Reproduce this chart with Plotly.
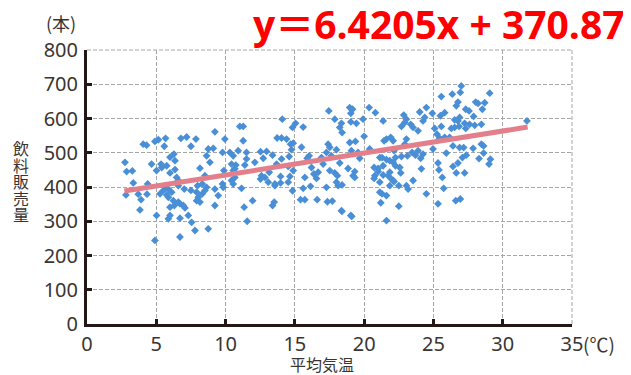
import plotly.graph_objects as go

# Scatter data: average temperature (°C) vs beverage sales (本)
temp = [
    2.74, 2.86, 3.27, 3.34, 2.81, 3.70, 3.90, 4.33, 4.38, 3.82, 4.06, 4.30, 4.90, 5.15, 5.67, 5.58,
    6.78, 7.19, 7.86, 7.50, 4.66, 5.02, 5.34, 5.75, 5.99, 6.27, 6.35, 5.99, 6.35, 6.47, 6.59, 5.27,
    5.51, 5.75, 5.87, 6.11, 6.23, 6.30, 5.99, 6.59, 6.71, 6.95, 7.07, 7.02, 7.50, 7.91, 8.03, 7.91,
    8.15, 8.32, 8.51, 8.63, 7.98, 8.32, 8.51, 8.15, 8.87, 8.63, 8.75, 9.11, 9.23, 9.23, 9.47, 9.23,
    5.02, 5.87, 5.99, 6.71, 7.31, 7.55, 7.79, 8.75, 6.71, 4.90, 6.59, 5.63, 5.87, 5.39,
    9.95, 9.78, 10.31, 10.55, 10.43, 10.74, 10.67, 10.91, 11.03, 11.27, 11.27, 11.51, 11.51, 11.39,
    10.55, 10.67, 10.43, 10.55, 9.88, 9.78, 9.83, 11.15, 12.11, 12.52, 12.96, 12.72, 13.39, 13.68,
    14.04, 14.59, 14.76, 13.72, 14.04, 14.40, 14.69, 14.88, 14.83, 15.05, 15.60, 14.09, 15.48, 12.59,
    12.52, 12.84, 13.15, 13.08, 13.56, 13.97, 13.56, 13.97, 14.52, 14.64, 14.52, 14.88, 15.72, 15.89,
    16.03, 16.20, 16.37, 16.56, 16.68, 16.13, 15.60, 14.83, 15.41, 15.72, 16.61, 11.95, 11.34, 13.39,
    13.51, 11.56, 17.04, 16.92,
    17.45, 17.40, 17.52, 17.88, 18.36, 18.24, 18.41, 18.96, 19.16, 19.04, 19.04, 19.44, 19.92, 20.00,
    20.36, 20.81, 18.96, 19.37, 18.00, 17.28, 17.64, 19.08, 19.56, 19.68, 18.24, 17.52, 17.88, 18.07,
    18.00, 18.84, 19.32, 19.32, 19.20, 18.12, 18.41, 17.28, 17.35, 18.36, 19.04, 20.40, 21.13, 21.29,
    21.44, 21.61, 21.92, 22.09, 21.37, 22.16, 22.26, 22.69, 23.05, 22.93, 22.69, 22.93, 23.05, 22.86,
    23.36, 23.53, 23.89, 24.01, 24.25, 24.37, 24.49, 23.46, 23.89, 24.25, 23.70, 24.08, 23.12, 20.72,
    21.01, 21.37, 21.61, 21.85, 22.09, 22.26, 22.57, 22.64, 20.77, 20.72, 21.01, 21.13, 21.37, 21.73,
    21.85, 21.97, 22.16, 21.85, 22.09, 22.50, 23.53, 24.13, 24.49, 23.05, 23.17, 21.13, 21.29, 21.61,
    21.20, 22.50, 21.61, 18.40, 19.10, 17.70,
    27.01, 26.94, 26.36, 25.57, 29.06, 26.77, 26.65, 27.33, 27.57, 28.05, 28.22, 28.53, 28.70, 25.81,
    25.50, 24.92, 26.53, 26.77, 26.89, 27.25, 27.90, 27.61, 27.98, 28.46, 25.57, 25.09, 26.29, 26.53,
    26.85, 27.33, 25.26, 25.81, 25.45, 26.17, 26.41, 24.97, 26.89, 27.18, 27.86, 28.46, 28.62, 25.93,
    27.37, 28.62, 28.29, 27.09, 26.77, 29.11, 29.01, 25.33, 26.41, 25.40, 26.65, 27.25, 25.64, 25.74,
    25.33, 26.61, 26.94, 31.75,
]
sales = [
    472, 445, 447, 412, 377, 379, 363, 379, 409, 333, 525, 522, 533, 538, 542, 519,
    542, 546, 540, 519, 467, 448, 467, 462, 487, 496, 477, 441, 451, 428, 419, 380,
    390, 377, 370, 385, 360, 346, 341, 356, 351, 346, 339, 394, 390, 385, 370, 360,
    356, 380, 390, 399, 404, 409, 433, 455, 472, 491, 511, 513, 561, 394, 375, 346,
    317, 307, 317, 309, 317, 297, 273, 278, 254, 244, 404, 404, 394, 457,
    540, 501, 501, 491, 467, 464, 453, 506, 577, 577, 535, 501, 482, 464,
    448, 428, 419, 409, 448, 409, 399, 396, 472, 503, 504, 484, 493, 467,
    482, 489, 509, 543, 543, 540, 525, 528, 574, 586, 575, 598, 516, 433,
    423, 428, 443, 414, 409, 412, 404, 431, 414, 431, 460, 448, 428, 484,
    491, 457, 438, 425, 443, 402, 396, 389, 363, 363, 363, 360, 341, 346,
    356, 300, 467, 486,
    622, 525, 516, 598, 586, 574, 559, 632, 627, 615, 590, 586, 598, 548,
    632, 617, 530, 533, 509, 501, 491, 506, 501, 484, 470, 448, 441, 433,
    414, 454, 445, 428, 433, 404, 406, 399, 357, 331, 317, 511, 486, 486,
    535, 540, 545, 535, 593, 506, 486, 489, 540, 525, 577, 588, 598, 610,
    583, 574, 564, 619, 593, 603, 632, 501, 506, 496, 493, 484, 491, 457,
    454, 462, 480, 477, 472, 462, 457, 441, 433, 425, 445, 414, 435, 433,
    443, 423, 416, 404, 419, 404, 419, 453, 380, 404, 394, 385, 380, 375,
    354, 344, 302, 329, 314, 359,
    695, 676, 671, 664, 674, 648, 637, 627, 622, 648, 644, 627, 646, 617,
    608, 615, 596, 593, 603, 586, 606, 583, 580, 583, 577, 571, 571, 574,
    577, 571, 554, 545, 542, 545, 520, 511, 515, 515, 513, 525, 520, 499,
    493, 499, 483, 486, 470, 481, 467, 470, 460, 450, 441, 441, 428, 396,
    351, 360, 365, 593,
]

# Regression line y = 6.4205x + 370.87, drawn over the data range
slope = 6.4205
intercept = 370.87
line_x = [2.7, 31.8]
line_y = [slope * v + intercept for v in line_x]

x_ticks = [0, 5, 10, 15, 20, 25, 30, 35]
y_ticks = [0, 100, 200, 300, 400, 500, 600, 700, 800]
title_text = "y＝6.4205x + 370.87"
y_title_chars = ["飲", "料", "販", "売", "量"]

fig = go.Figure()
fig.add_trace(go.Scatter(
    x=temp, y=sales, mode="markers",
    marker=dict(symbol="diamond", size=6, color="#4a8fd6", line=dict(width=0)),
    showlegend=False, hoverinfo="skip",
))
fig.add_trace(go.Scatter(
    x=line_x, y=line_y, mode="lines",
    line=dict(color="#e27f8b", width=5),
    showlegend=False, hoverinfo="skip",
))

GRID = "#a6a6a6"
tick_font = dict(family="Noto Sans, Noto Sans CJK JP", size=20, color="#3a3532")
axis_common = dict(
    showline=True, linecolor="#231815", linewidth=3,
    ticks="inside", ticklen=5, tickwidth=3, tickcolor="#231815",
    showgrid=True, gridcolor=GRID, griddash="4px,2px", gridwidth=1,
    zeroline=False, tickfont=tick_font, mirror=False,
)

# The page body has an 8px margin, so the figure is sized to fit the window from (8, 8)
fig.update_layout(
    width=623, height=367,
    margin=dict(l=79, r=59, t=42, b=51),
    paper_bgcolor="white", plot_bgcolor="white",
    xaxis=dict(range=[0, 35], tickvals=x_ticks, ticktext=[str(v) for v in x_ticks], **axis_common),
    yaxis=dict(range=[0, 800], tickvals=y_ticks, ticktext=[str(v) for v in y_ticks],
               ticklabelstandoff=2, **axis_common),
    font=dict(family="Noto Sans CJK JP", color="#3a3532"),
)

# top / right dashed borders
fig.add_shape(type="line", xref="paper", yref="paper", x0=0, x1=1, y0=1, y1=1,
              line=dict(color=GRID, width=1, dash="4px,2px"))
fig.add_shape(type="line", xref="paper", yref="paper", x0=1, x1=1, y0=0, y1=1,
              line=dict(color=GRID, width=1, dash="4px,2px"))

ann = []
ann.append(dict(text="<b>" + title_text + "</b>", xref="paper", yref="paper", x=1, y=1,
                xanchor="right", yanchor="middle", xshift=55, yshift=27, showarrow=False,
                font=dict(family="Open Sans, Noto Sans CJK JP", size=39, color="#ff0000")))
ann.append(dict(text="(本)", xref="paper", yref="paper", x=0, y=1, xanchor="center",
                yanchor="middle", xshift=-26, yshift=27, showarrow=False,
                font=dict(family="Noto Sans CJK JP", size=18, color="#3a3532")))
for i, ch in enumerate(y_title_chars):
    ann.append(dict(text=ch, xref="paper", yref="paper", x=0, y=0, xanchor="center",
                    yanchor="middle", xshift=-66, yshift=324 - (148 + 16.5 * i),
                    showarrow=False,
                    font=dict(family="Noto Sans CJK JP", size=16, color="#3a3532")))
ann.append(dict(text="平均気温", xref="paper", yref="paper", x=0.485, y=0, xanchor="center",
                yanchor="middle", yshift=-40, showarrow=False,
                font=dict(family="Noto Sans CJK JP", size=16, color="#3a3532")))
ann.append(dict(text="(℃)", xref="paper", yref="paper", x=1, y=0, xanchor="left",
                yanchor="middle", xshift=9, yshift=-19, showarrow=False,
                font=dict(family="Noto Sans CJK JP", size=19, color="#3a3532")))
fig.update_layout(annotations=ann)

fig.write_html("out.html")
